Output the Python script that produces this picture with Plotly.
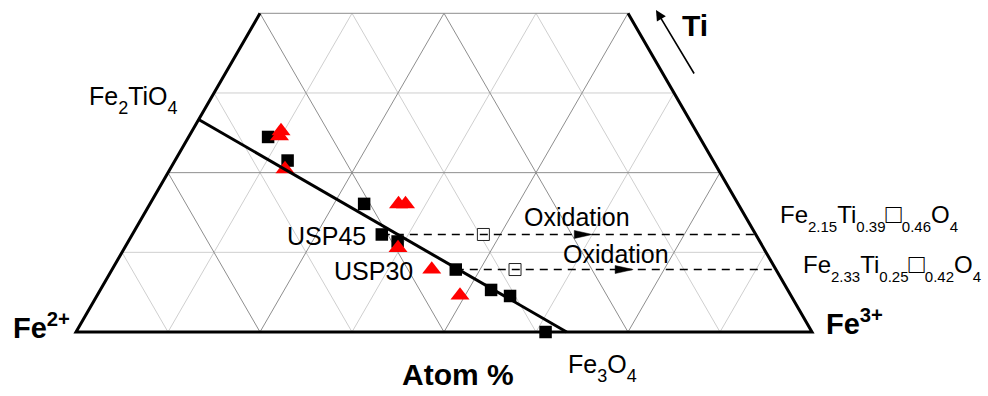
import math
import plotly.graph_objects as go

FONT = "Liberation Sans, Arial, Helvetica, sans-serif"
W, H = 988, 396

# Cation fractions: Ti, Fe3+ (Fe2+ = 1 - Ti - Fe3+)
# Titanomagnetites, filled squares
sq_ti = [0.306, 0.269, 0.201, 0.142, 0.066, 0.0565, 0.0]
sq_fe3 = [0.108, 0.153, 0.291, 0.366, 0.531, 0.5615, 0.638]

# Titanomagnetites, red triangles
tri_ti = [0.3153, 0.3075, 0.2557, 0.2008, 0.2008, 0.1318, 0.0981, 0.0573]
tri_fe3 = [0.1209, 0.1227, 0.1561, 0.3378, 0.3473, 0.3716, 0.4343, 0.4931]

# Synthetic USP samples and their oxidised states
usp_names = ["USP45", "USP30"]
usp_ti = [0.153, 0.098]
usp_fe3 = [0.339, 0.467]
oxi_fe3 = [0.477, 0.5475]
# cation subscripts: Fe, Ti, vacancy, O
oxi_subs = [["2.15", "0.39", "0.46", "4"], ["2.33", "0.25", "0.42", "4"]]

# Titanomagnetite join: Fe2TiO4 -> Fe3O4
join_ti = [1 / 3, 0.0]
join_fe3 = [0.0, 2 / 3]

# Ternary grid
grid_step = 0.125
ti_max = 0.5

S3 = math.sqrt(3) / 2
PX = 736.0            # pixels per unit of the triangle base
X0, Y0 = 76.0, 332.0  # pixel position of the Fe2+ corner


def tern(ti, fe3):
    """Ternary (Ti, Fe3+) -> cartesian, Fe2+ corner at origin, Fe3+ at (1, 0)."""
    return fe3 + ti / 2.0, ti * S3


def tern_xy(tis, fe3s):
    xs, ys = [], []
    for t, f in zip(tis, fe3s):
        if t is None:
            xs.append(None)
            ys.append(None)
        else:
            x, y = tern(t, f)
            xs.append(x)
            ys.append(y)
    return xs, ys


def paper(px, py):
    return px / W, 1 - py / H


def sub(s, size=15):
    return f'<sub><sub><span style="font-size:{size}px">{s}</span></sub></sub>'


def formula(subs):
    fe, ti, vac, o = subs
    box = '<span style="font-size:27px">\u25a1</span>'
    return f"Fe{sub(fe)}Ti{sub(ti)}{box}{sub(vac)}O{sub(o)}"


fig = go.Figure()

# grid lines: 0.25 steps darker, intermediate 0.125 steps lighter
n = int(round(1 / grid_step))
grid = {"dark": ([], []), "light": ([], [])}
for k in range(1, n):
    c = k * grid_step
    key = "dark" if k % 2 == 0 else "light"
    tis, fe3s = grid[key]
    top = min(ti_max, 1 - c)
    if c <= ti_max + 1e-9:
        # constant Ti
        tis += [c, c, None]
        fe3s += [0.0, 1 - c, None]
    # constant Fe3+
    tis += [0.0, top, None]
    fe3s += [c, c, None]
    # constant Fe2+
    tis += [0.0, top, None]
    fe3s += [1 - c, 1 - c - top, None]

for key, color in (("light", "#cfcfcf"), ("dark", "#8e8e8e")):
    gx, gy = tern_xy(*grid[key])
    fig.add_trace(go.Scatter(x=gx, y=gy, mode="lines", hoverinfo="skip",
                             line=dict(color=color, width=1)))

# triangle outline (left edge, base, right edge)
bx, by = tern_xy([ti_max, 0.0, 0.0, ti_max], [0.0, 0.0, 1.0, 1 - ti_max])
fig.add_trace(go.Scatter(x=bx, y=by, mode="lines", hoverinfo="skip",
                         line=dict(color="black", width=3)))

# oxidised equivalents (open squares)
ox, oy = tern_xy(usp_ti, oxi_fe3)
fig.add_trace(go.Scatter(x=ox, y=oy, mode="markers",
                         marker=dict(symbol="square", size=12, color="white",
                                     line=dict(color="#222", width=1))))

# oxidation paths at constant Ti, up to the Fe2+-free edge
dti, dfe = [], []
for t, f in zip(usp_ti, usp_fe3):
    dti += [t, t, None]
    dfe += [f, 1 - t, None]
dx, dy = tern_xy(dti, dfe)
fig.add_trace(go.Scatter(x=dx, y=dy, mode="lines", hoverinfo="skip",
                         line=dict(color="black", width=1.5, dash="8px,6px")))

# filled squares
sx, sy = tern_xy(sq_ti + usp_ti, sq_fe3 + usp_fe3)
fig.add_trace(go.Scatter(x=sx, y=sy, mode="markers",
                         marker=dict(symbol="square", size=12.5, color="black")))

# red triangles
tx, ty = tern_xy(tri_ti, tri_fe3)
fig.add_trace(go.Scatter(x=tx, y=ty, mode="markers",
                         marker=dict(symbol="triangle-up", size=16.5, color="#ff0000")))

# titanomagnetite join
jx, jy = tern_xy(join_ti, join_fe3)
fig.add_trace(go.Scatter(x=jx, y=jy, mode="lines", hoverinfo="skip",
                         line=dict(color="black", width=3)))

# arrowheads on the oxidation paths
arrow_tip_fe3 = [0.625, 0.708]
a_len, a_half = 18 / PX, 4 / PX
shapes = []
for t, f in zip(usp_ti, arrow_tip_fe3):
    xt, yt = tern(t, f)
    shapes.append(dict(
        type="path", xref="x", yref="y",
        path=f"M{xt},{yt} L{xt - a_len},{yt + a_half} L{xt - a_len},{yt - a_half} Z",
        fillcolor="black", line=dict(color="black", width=0.5)))

ann = []


def label(text, px, py, size, bold=False, xanchor="left", yanchor="middle"):
    x, y = paper(px, py)
    ann.append(dict(
        text=f"<b>{text}</b>" if bold else text, x=x, y=y,
        xref="paper", yref="paper", showarrow=False,
        xanchor=xanchor, yanchor=yanchor,
        font=dict(family=FONT, size=size, color="black")))


label(f"Fe{sub('2', 18)}TiO{sub('4', 18)}", 87, 100, 25)
label(f"Fe{sub('3', 18)}O{sub('4', 18)}", 566, 368, 25)
label("Atom %", 458, 374, 30, bold=True, xanchor="center")
label("Fe<sup>2+</sup>", 11, 326, 29, bold=True)
label("Fe<sup>3+</sup>", 824, 322, 29, bold=True)
label("Ti", 695, 25, 30, bold=True, xanchor="center")
for name, py, px in zip(usp_names, [235.5, 270.5], [368, 415]):
    label(name, px, py, 25, xanchor="right")
for px, py in zip([522, 561], [217, 254]):
    label("Oxidation", px, py, 25)
for subs, px, py in zip(oxi_subs, [778, 801], [217, 267]):
    label(formula(subs), px, py, 24)

# direction of increasing Ti
tx0, ty0 = paper(656, 10)
ann.append(dict(x=tx0, y=ty0, xref="paper", yref="paper", text="",
                showarrow=True, ax=39, ay=65, arrowhead=2, arrowsize=1.3,
                arrowwidth=1.6, arrowcolor="black"))

fig.update_layout(
    width=W, height=H, margin=dict(l=0, r=0, t=0, b=0),
    paper_bgcolor="white", plot_bgcolor="white", showlegend=False,
    xaxis=dict(range=[-X0 / PX, (W - X0) / PX], visible=False, fixedrange=True),
    yaxis=dict(range=[-(H - Y0) / PX, Y0 / PX], visible=False, fixedrange=True),
    shapes=shapes, annotations=ann,
)

fig.write_html("out.html")
